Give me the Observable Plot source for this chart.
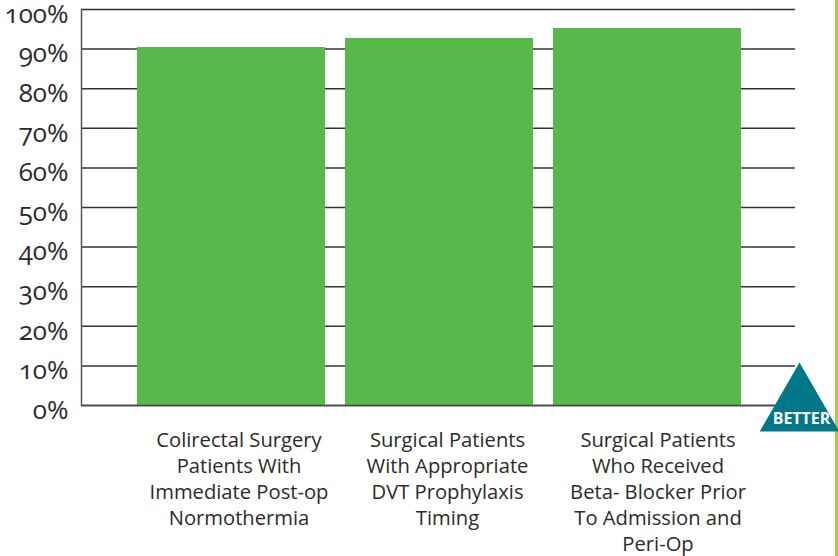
<!DOCTYPE html>
<html><head><meta charset="utf-8">
<script src="https://cdn.jsdelivr.net/npm/d3@7"></script>
<script src="https://cdn.jsdelivr.net/npm/@observablehq/plot@0.6"></script>
<style>
html,body{margin:0;padding:0;background:#fff;overflow:hidden}
svg{display:block;font-feature-settings:"onum" 1;font-variant-numeric:oldstyle-nums}
</style></head><body><div id="chart"></div>
<script>
const categories = [
  "Colirectal Surgery\nPatients With\nImmediate Post-op\nNormothermia",
  "Surgical Patients\nWith Appropriate\nDVT Prophylaxis\nTiming",
  "Surgical Patients\nWho Received\nBeta- Blocker Prior\nTo Admission and\nPeri-Op"
];
const values = [90.4, 92.7, 95.2];
const labelShift = [7.5, 8, 10.5];
const yTicks = [0,10,20,30,40,50,60,70,80,90,100];
const rows = categories.map((c,i)=>({c, v:values[i]}));
const font = "'Open Sans', 'Noto Sans', sans-serif";
const plot = Plot.plot({
  width: 838, height: 556,
  marginLeft: 81, marginRight: 43, marginTop: 9, marginBottom: 151,
  style: {fontFamily: font, background: "linear-gradient(to left,#a6cf38 3px,#fff 3px)"},
  x: {type:"band", domain: categories, range:[117,761], padding:0.096, align:0.5, axis:null},
  y: {domain:[0,100], range:[405,9]},
  marks: [
    Plot.ruleY(yTicks, {stroke:"#333", strokeWidth:1.5}),
    Plot.barY(rows, {x:"c", y:"v", fill:"#57b84b"}),
    Plot.ruleY([0], {stroke:"#444", strokeWidth:1.5}),
    Plot.frame({anchor:"left", stroke:"#555", strokeWidth:1.5}),
    Plot.axisY({ticks: yTicks, tickSize:0, tickPadding:13, dy:5, tickFormat:d=>d+"%", fontSize:26, fill:"#2b2b2b", label:null}),
    rows.map((r,i)=>Plot.text([r], {x:"c", y:()=>0, text:"c", dx:labelShift[i], dy:23, lineAnchor:"top", lineHeight:1.29, fontSize:20.2, fill:"#2b2b2b"})),
    Plot.dot([0], {y:()=>0, frameAnchor:"right", dx:4, dy:3, symbol:"triangle", r:29.5, fill:"#00788a"}),
    Plot.text(["BETTER"], {y:()=>0, frameAnchor:"right", text:d=>d, dx:6, dy:13, fill:"#fff", fontWeight:"bold", fontSize:16, textAnchor:"middle"})
  ]
});
document.getElementById("chart").append(plot);
</script></body></html>
